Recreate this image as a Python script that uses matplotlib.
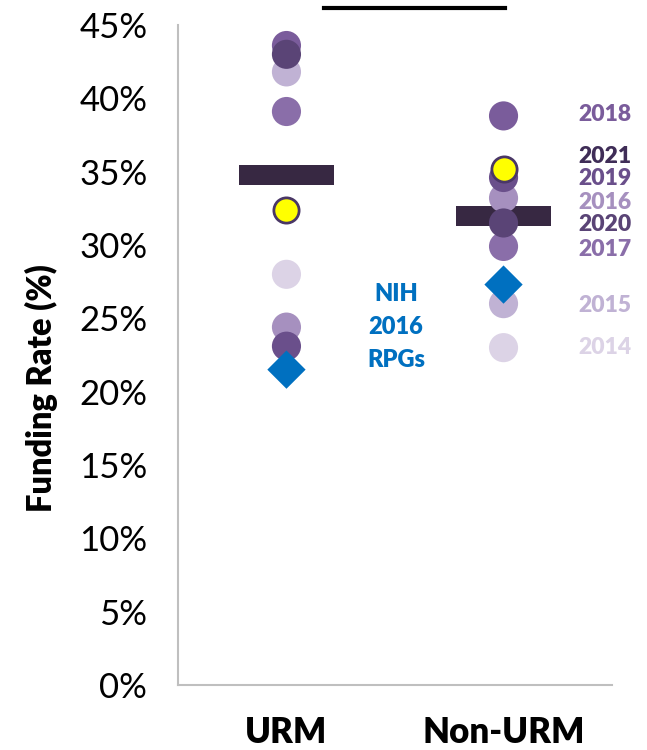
import matplotlib
matplotlib.use("Agg")
import matplotlib.pyplot as plt
from matplotlib.lines import Line2D

plt.rcParams['font.family'] = ['Lato', 'DejaVu Sans']

# data
groups = ['URM', 'Non-URM']
years = [2014, 2015, 2016, 2017, 2018, 2019, 2020, 2021]
urm_rates = [28.0, 41.8, 24.4, 39.1, 43.6, 23.1, 43.0, 32.4]
non_urm_rates = [23.0, 26.0, 33.2, 29.9, 38.8, 34.6, 31.5, 35.2]
center_bars = [34.8, 32.0]
nih_2016 = [21.5, 27.3]
# where the year labels sit on the right (y, in %)
label_y = [23.0, 25.9, 32.9, 29.7, 38.9, 34.5, 31.4, 36.0]

year_colors = ['#dcd3e6', '#c0b2d4', '#a690bf', '#8a6ea9',
               '#7a5c9b', '#6a4f8b', '#5a4476', '#3f2d57']
highlight_year = 2021

fig = plt.figure(figsize=(6.47, 7.5), dpi=100)
ax = fig.add_axes([0.275, 0.0867, 0.671, 0.88])

# centre bars (behind the dots)
for i, v in enumerate(center_bars):
    ax.hlines(v, i - 0.217, i + 0.217, color='#372842', linewidth=14.4,
              capstyle='butt', zorder=2)

# yearly dots, drawn in year order
for j, yr in enumerate(years):
    for i, rates in enumerate([urm_rates, non_urm_rates]):
        if yr == highlight_year:
            ax.scatter(i, rates[j], s=330, color='#ffff00', edgecolor='#4a3766',
                       linewidths=2, zorder=4)
        else:
            ax.scatter(i, rates[j], s=440, color=year_colors[j],
                       edgecolor='none', zorder=3)

# NIH 2016 RPG diamonds
ax.scatter(range(len(groups)), nih_2016, marker='D', s=380, color='#0070c0',
           edgecolor='none', zorder=5)
ax.text(0.505, 27.4, 'NIH\n2016\nRPGs', color='#0070c0', fontsize=17,
        fontweight='heavy', ha='center', va='top', linespacing=1.6)

# year labels
for j, yr in enumerate(years):
    ax.text(1.343, label_y[j], str(yr), color=year_colors[j], fontsize=16.5,
            fontweight='heavy', ha='left', va='center')

ax.set_xlim(-0.5, 1.5)
ax.set_ylim(0, 45)
ax.set_yticks(range(0, 46, 5))
ax.set_yticklabels([f'{t}%' for t in range(0, 46, 5)], fontsize=25)
ax.set_xticks(range(len(groups)))
ax.set_xticklabels(groups, fontsize=25, fontweight='heavy')
ax.tick_params(axis='y', length=0, pad=22)
ax.tick_params(axis='x', length=0, pad=22)
ax.set_ylabel('Funding Rate (%)', fontsize=23.5, fontweight='heavy')
ax.yaxis.set_label_coords(-0.277, 0.45)

for side in ['top', 'right']:
    ax.spines[side].set_visible(False)
for side in ['left', 'bottom']:
    ax.spines[side].set_color('#bfbfbf')
    ax.spines[side].set_linewidth(1.5)

# underline of the title cut off above the frame
fig.add_artist(Line2D([0.50, 0.78], [0.9893, 0.9893], color='black',
                      linewidth=3, transform=fig.transFigure))

fig.savefig('out.png', dpi=100)
